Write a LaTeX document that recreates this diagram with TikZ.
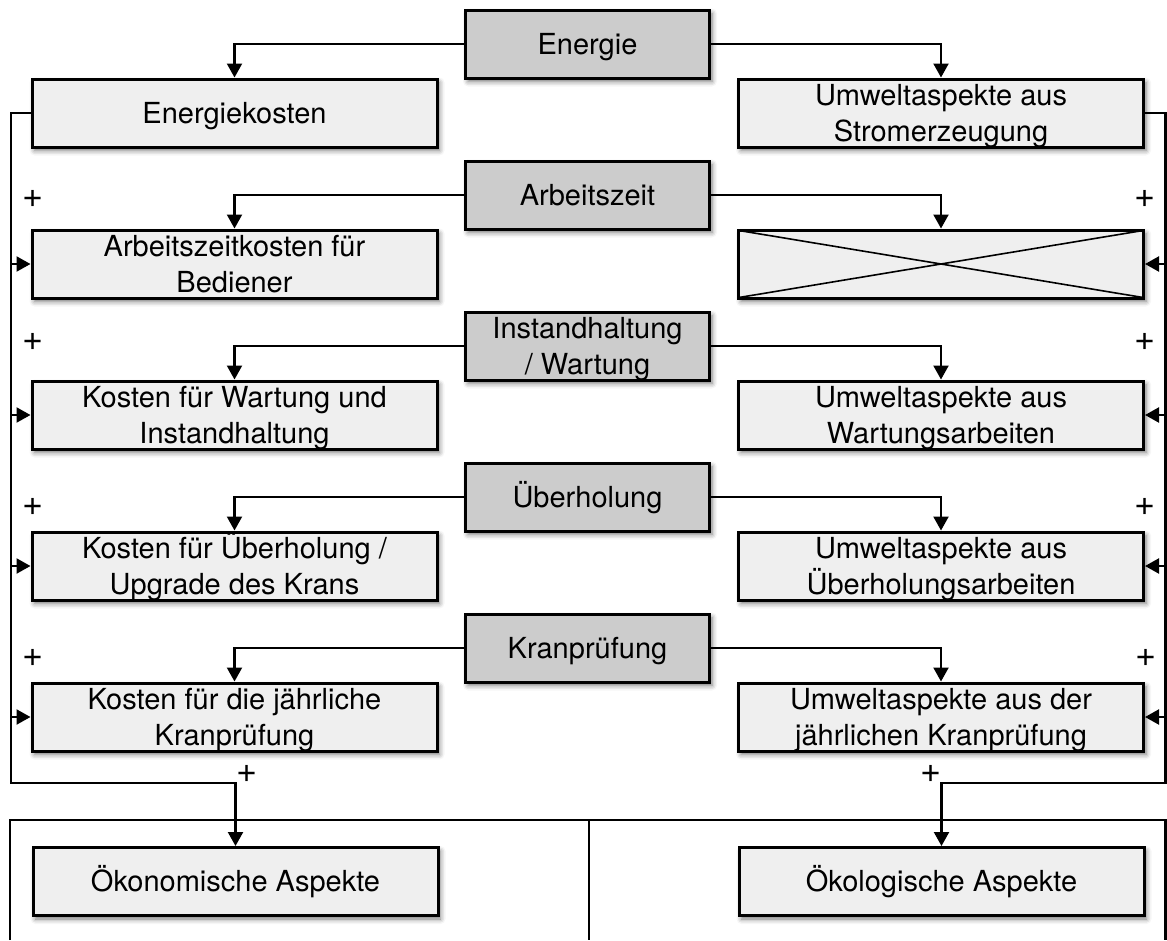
\documentclass[tikz,border=0pt]{standalone}
\usepackage{fontspec}
\setmainfont{TeX Gyre Heros}
\usetikzlibrary{arrows.meta,shadows.blur}
\definecolor{srcgray}{HTML}{CCCCCC}
\definecolor{boxfill}{HTML}{EFEFEF}
\tikzset{
  base/.style={draw=black, line width=3pt, inner sep=0pt, align=center,
    font=\fontsize{29}{35.5}\selectfont,
    blur shadow={shadow xshift=2.5pt, shadow yshift=-3.5pt, shadow blur radius=5pt, shadow opacity=55}},
  source/.style={base, fill=srcgray, minimum width=244pt, minimum height=68pt},
  target/.style={base, fill=boxfill, minimum width=405pt, minimum height=68pt},
  oneline/.style={text height=20.5pt, text depth=0pt},
  twoline/.style={text height=56pt, text depth=0pt},
  conn/.style={line width=2.2pt},
  arr/.style={conn, -{Triangle[length=14pt,width=15pt]}},
  sign/.style={font=\fontsize{36}{36}\selectfont, inner sep=0pt},
  frame/.style={line width=2.2pt},
}
\begin{document}
\begin{tikzpicture}[x=1pt,y=-1pt]
\useasboundingbox (0,0) rectangle (1167,940);

% outer frame of the two result columns
\draw[frame] (10,940) -- (10,820) -- (1165.5,820) -- (1165.5,940);
\draw[frame] (589,820) -- (589,940);

% cost drivers (centre column)
\node[source, oneline] (g1) at (587.5,44)  {Energie};
\node[source, oneline] (g2) at (587.5,195) {Arbeitszeit};
\node[source, twoline] (g3) at (587.5,346) {Instandhaltung\\/ Wartung};
\node[source, oneline] (g4) at (587.5,497) {Überholung};
\node[source, oneline] (g5) at (587.5,648) {Kranprüfung};

% economic side
\node[target, oneline] (l1) at (234.5,113) {Energiekosten};
\node[target, twoline] (l2) at (234.5,264) {Arbeitszeitkosten für\\Bediener};
\node[target, twoline] (l3) at (234.5,415) {Kosten für Wartung und\\Instandhaltung};
\node[target, twoline] (l4) at (234.5,566) {Kosten für Überholung /\\Upgrade des Krans};
\node[target, twoline] (l5) at (234.5,717) {Kosten für die jährliche\\Kranprüfung};

% ecological side
\node[target, twoline] (r1) at (941,113) {Umweltaspekte aus\\Stromerzeugung};
\node[target, oneline] (r2) at (941,264) {};
\node[target, twoline] (r3) at (941,415) {Umweltaspekte aus\\Wartungsarbeiten};
\node[target, twoline] (r4) at (941,566) {Umweltaspekte aus\\Überholungsarbeiten};
\node[target, twoline] (r5) at (941,717) {Umweltaspekte aus der\\jährlichen Kranprüfung};
\draw[line width=1.6pt] ([shift={(2,2)}]r2.north west) -- ([shift={(-2,-2)}]r2.south east)
                        ([shift={(2,-2)}]r2.south west) -- ([shift={(-2,2)}]r2.north east);

% results
\node[target, oneline] (econ) at (235.5,881.5) {Ökonomische Aspekte};
\node[target, oneline] (ecol) at (941.5,881.5) {Ökologische Aspekte};

% drivers to both sides
\foreach \i in {1,...,5}{
  \draw[arr] (g\i.west) -| (l\i.north);
  \draw[arr] (g\i.east) -| (r\i.north);
}

% summing buses
\coordinate (lbus) at (11,783);
\coordinate (rbus) at (1165.5,783);
\draw[arr] (l1.west) -| (lbus) -| (econ.north);
\draw[arr] (r1.east) -| (rbus) -| (ecol.north);
\foreach \i in {2,...,5}{
  \draw[arr] (l\i.west -| lbus) -- (l\i.west);
  \draw[arr] (r\i.east -| rbus) -- (r\i.east);
}

% plus signs
\node[sign] (pl2) at (33,199) {+};
\node[sign] (pl3) at (33,342) {+};
\node[sign] (pl4) at (33,507) {+};
\node[sign] (pl5) at (33,658) {+};
\node[sign] (pr2) at (1145,199) {+};
\node[sign] (pr3) at (1145,342) {+};
\node[sign] (pr4) at (1145,507) {+};
\node[sign] (pr5) at (1146,658) {+};
\node[sign] (pe) at (247,774) {+};
\node[sign] (po) at (931,774) {+};
\end{tikzpicture}
\end{document}
